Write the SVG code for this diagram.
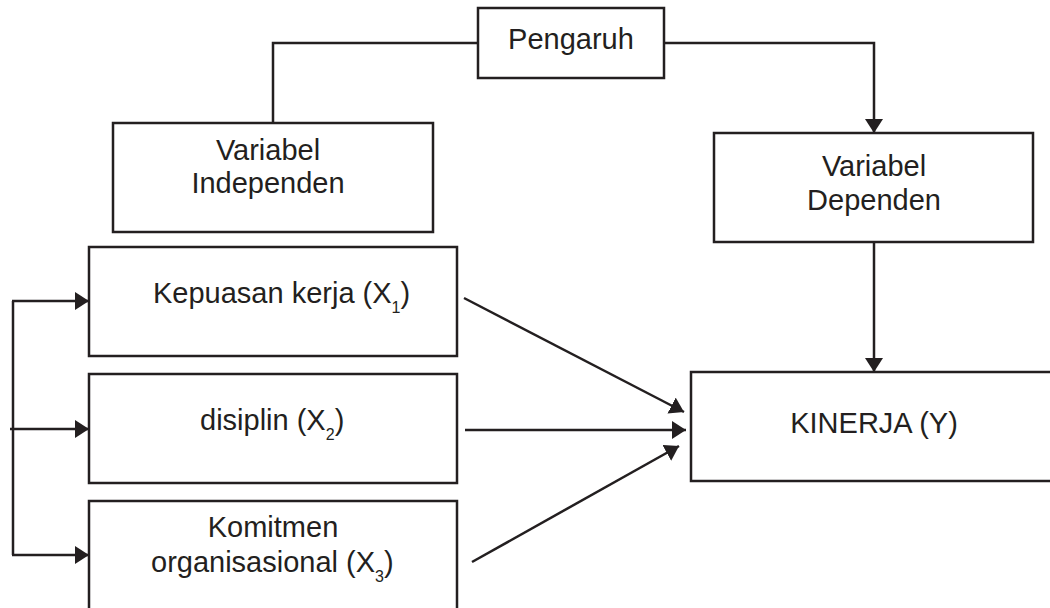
<svg xmlns="http://www.w3.org/2000/svg" width="1050" height="608" viewBox="0 0 1050 608">
<style>
.box{fill:#fff;stroke:#231f20;stroke-width:2.5}
.ln{fill:none;stroke:#231f20;stroke-width:2.5}
.t{font-family:"Liberation Sans",Arial,sans-serif;font-size:29px;fill:#231f20}
.m{text-anchor:middle}
.sub{font-size:16px}
</style>
<defs>
<marker id="ah" viewBox="0 0 14 18" refX="14" refY="9" markerWidth="14" markerHeight="18" markerUnits="userSpaceOnUse" orient="auto">
<path d="M0,0 L14,9 L0,18 z" fill="#231f20"/>
</marker>
</defs>
<g id="connectors">
<polyline class="ln" points="478,43 273,43 273,123"/>
<polyline class="ln" points="664,43 874,43 874,133" marker-end="url(#ah)"/>
<line class="ln" x1="874" y1="242" x2="874" y2="372" marker-end="url(#ah)"/>
<line class="ln" x1="13" y1="301" x2="13" y2="555"/>
<line class="ln" x1="12" y1="301" x2="89" y2="301" marker-end="url(#ah)"/>
<line class="ln" x1="10" y1="429" x2="89" y2="429" marker-end="url(#ah)"/>
<line class="ln" x1="12" y1="555" x2="89" y2="555" marker-end="url(#ah)"/>
<line class="ln" x1="464" y1="298" x2="684" y2="412" marker-end="url(#ah)"/>
<line class="ln" x1="465" y1="430" x2="686" y2="430" marker-end="url(#ah)"/>
<line class="ln" x1="472" y1="562" x2="679" y2="446" marker-end="url(#ah)"/>
</g>
<g id="pengaruh">
<rect class="box" x="478" y="8" width="186" height="70"/>
<text class="t m" x="571" y="49">Pengaruh</text>
</g>
<g id="var-independen">
<rect class="box" x="113" y="123" width="320" height="109"/>
<text class="t m" x="268" y="160">Variabel</text>
<text class="t m" x="268" y="193">Independen</text>
</g>
<g id="var-dependen">
<rect class="box" x="714" y="133" width="319" height="109"/>
<text class="t m" x="874" y="176">Variabel</text>
<text class="t m" x="874" y="210">Dependen</text>
</g>
<g id="kepuasan">
<rect class="box" x="89" y="247" width="368" height="109"/>
<text class="t" x="153" y="303">Kepuasan kerja (X<tspan class="sub" dy="10">1</tspan><tspan dy="-10">)</tspan></text>
</g>
<g id="disiplin">
<rect class="box" x="89" y="374" width="368" height="109"/>
<text class="t" x="200" y="430">disiplin (X<tspan class="sub" dy="10">2</tspan><tspan dy="-10">)</tspan></text>
</g>
<g id="komitmen">
<rect class="box" x="89" y="501" width="368" height="112"/>
<text class="t m" x="273" y="537">Komitmen</text>
<text class="t" x="151" y="572">organisasional (X<tspan class="sub" dy="10">3</tspan><tspan dy="-10">)</tspan></text>
</g>
<g id="kinerja">
<rect class="box" x="691" y="372" width="365" height="109"/>
<text class="t m" x="874" y="433">KINERJA (Y)</text>
</g>
</svg>
